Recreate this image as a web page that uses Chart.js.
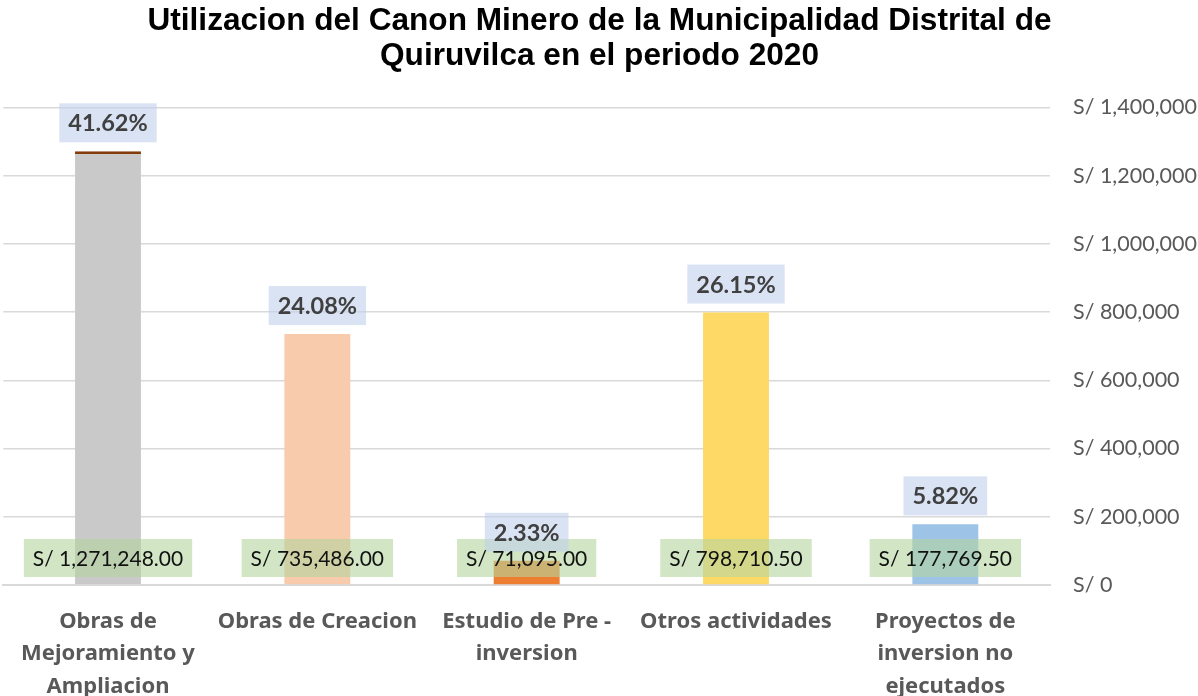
<!DOCTYPE html>
<html>
<head>
<meta charset="utf-8">
<script src="https://cdn.jsdelivr.net/npm/chart.js@4/dist/chart.umd.min.js"></script>
<style>
html,body{margin:0;padding:0;background:#fff;}
#wrap{width:1198px;height:696px;position:relative;}
</style>
</head>
<body>
<div id="wrap"><canvas id="c" width="1198" height="696"></canvas></div>
<script>
const categories = [
  ["Obras de", "Mejoramiento y", "Ampliacion"],
  ["Obras de Creacion"],
  ["Estudio de Pre -", "inversion"],
  ["Otros actividades"],
  ["Proyectos de", "inversion no", "ejecutados"]
];
const montos = [1271248.00, 735486.00, 71095.00, 798710.50, 177769.50];
const montoLabels = ["S/ 1,271,248.00", "S/ 735,486.00", "S/ 71,095.00", "S/ 798,710.50", "S/ 177,769.50"];
const porcentajes = ["41.62%", "24.08%", "2.33%", "26.15%", "5.82%"];
const barColors = ["#C9C9C9", "#F8CBAD", "#ED7D31", "#FFD966", "#9DC3E6"];
const yMax = 1400000;
const yStep = 200000;

const FONT = "Lato, sans-serif";
const XFONT = "'Noto Sans', sans-serif";

const labelPlugin = {
  id: 'labelBoxes',
  afterDatasetsDraw(chart) {
    const ctx = chart.ctx;
    const meta = chart.getDatasetMeta(0);
    const yScale = chart.scales.y;
    const base = yScale.getPixelForValue(0);
    ctx.save();
    const gFont = "21px " + FONT;
    const pFont = "bold 23.5px " + FONT;
    const gH = 38, pH = 39;
    const padX = 9;
    const items = [];
    meta.data.forEach((bar, i) => {
      ctx.font = gFont;
      const gw = ctx.measureText(montoLabels[i]).width + padX * 2;
      const gy = base - 8 - gH;
      ctx.font = pFont;
      const pw = ctx.measureText(porcentajes[i]).width + padX * 2;
      const py = bar.y - 9 - pH;
      items.push({x: bar.x, gw, gy, pw, py, i});
    });
    items.forEach(it => {
      ctx.fillStyle = "rgba(180,213,160,0.6)";
      ctx.fillRect(it.x - it.gw / 2, it.gy, it.gw, gH);
    });
    items.forEach(it => {
      ctx.fillStyle = "rgba(193,208,235,0.6)";
      ctx.fillRect(it.x - it.pw / 2, it.py, it.pw, pH);
    });
    ctx.textAlign = "center";
    ctx.textBaseline = "middle";
    items.forEach(it => {
      ctx.font = pFont;
      ctx.fillStyle = "#404040";
      ctx.fillText(porcentajes[it.i], it.x, it.py + pH / 2 + 1);
      ctx.font = gFont;
      ctx.fillStyle = "#111111";
      ctx.fillText(montoLabels[it.i], it.x, it.gy + gH / 2 + 1);
    });
    ctx.restore();
  }
};

new Chart(document.getElementById('c'), {
  type: 'bar',
  data: {
    labels: categories,
    datasets: [{
      data: montos,
      backgroundColor: barColors,
      borderColor: "#843C0C",
      borderWidth: (c) => c.dataIndex === 0 ? {top: 3, left: 0, right: 0, bottom: 0} : 0,
      borderSkipped: 'start',
      categoryPercentage: 1,
      barPercentage: 0.315
    }]
  },
  options: {
    responsive: false,
    animation: false,
    devicePixelRatio: 1,
    layout: {padding: {left: 1, right: 0, top: 0, bottom: 0}},
    plugins: {
      legend: {display: false},
      tooltip: {enabled: false},
      title: {
        display: true,
        text: ["Utilizacion del Canon Minero de la Municipalidad Distrital de", "Quiruvilca en el periodo 2020"],
        font: {family: "'Liberation Sans', Arial, sans-serif", size: 31.6, weight: 'bold', lineHeight: 1.13},
        color: "#000000",
        padding: {top: 3, bottom: 33}
      }
    },
    scales: {
      x: {
        grid: {display: false, drawTicks: false},
        border: {display: true, color: "#D9D9D9", width: 2},
        ticks: {
          color: "#595959",
          font: {family: XFONT, size: 22, weight: 'bold', lineHeight: 1.46},
          padding: 21,
          maxRotation: 0,
          autoSkip: false
        },
        afterFit(scale) { scale.height = 111; }
      },
      y: {
        position: 'right',
        min: 0,
        max: yMax,
        grid: {color: "#D9D9D9", lineWidth: 1.5, drawTicks: false},
        border: {display: false},
        ticks: {
          stepSize: yStep,
          color: "#595959",
          font: {family: FONT, size: 21.5},
          padding: 23,
          callback: (v) => "S/ " + Number(v).toLocaleString('en-US')
        },
        afterFit(scale) { scale.width = 148; }
      }
    }
  },
  plugins: [labelPlugin]
});
</script>
</body>
</html>
